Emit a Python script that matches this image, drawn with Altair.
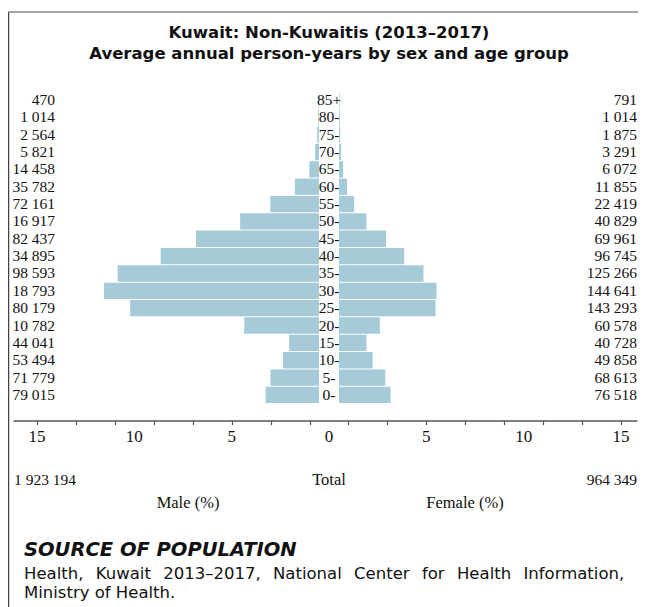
import altair as alt
import pandas as pd

ages = ["85+", "80-", "75-", "70-", "65-", "60-", "55-", "50-", "45-", "40-",
        "35-", "30-", "25-", "20-", "15-", "10-", "5-", "0-"]
male_pct = [0.02, 0.04, 0.09, 0.20, 0.50, 1.24, 2.50, 4.05, 6.32, 8.13,
            10.34, 11.04, 9.70, 3.84, 1.53, 1.85, 2.49, 2.74]
female_pct = [0.03, 0.04, 0.06, 0.11, 0.21, 0.41, 0.78, 1.41, 2.42, 3.35,
              4.34, 5.01, 4.96, 2.10, 1.41, 1.73, 2.38, 2.65]
male_labels = ["470", "1 014", "2 564", "5 821", "14 458", "35 782", "72 161",
               "16 917", "82 437", "34 895", "98 593", "18 793", "80 179",
               "10 782", "44 041", "53 494", "71 779", "79 015"]
female_labels = ["791", "1 014", "1 875", "3 291", "6 072", "11 855", "22 419",
                 "40 829", "69 961", "96 745", "125 266", "144 641", "143 293",
                 "60 578", "40 728", "49 858", "68 613", "76 518"]
minor_ticks = list(range(-15, 16))
major_ticks = [-15, -10, -5, 0, 5, 10, 15]
male_total = "1 923 194"
female_total = "964 349"

df = pd.DataFrame({
    "age": ages,
    "male": male_pct,
    "female": female_pct,
    "male_label": male_labels,
    "female_label": female_labels,
})
ticks_df = pd.DataFrame({"v": major_ticks,
                         "lab": [str(abs(v)) for v in major_ticks]})

BAR = "#a6cbd8"
SERIF = "Liberation Serif"
SANS = "DejaVu Sans"
INK = "#111"

yenc = alt.Y("age:N", sort=ages, axis=None,
             scale=alt.Scale(paddingInner=0.06, paddingOuter=0.03))
xscale = alt.Scale(domain=[-16.23, 15.82], nice=False, zero=False)

base = alt.Chart(df)

male_bars = base.transform_calculate(m="-datum.male").mark_bar(
    color=BAR, xOffset=-10, x2Offset=-10
).encode(
    x=alt.X("m:Q", scale=xscale,
            axis=alt.Axis(values=minor_ticks, title=None, grid=False,
                          labels=False, offset=17, tickSize=4,
                          domainColor="#555", tickColor="#555",
                          domainWidth=1.5, tickWidth=1.2)),
    x2=alt.datum(0),
    y=yenc,
)

female_bars = base.mark_bar(color=BAR, xOffset=10, x2Offset=10).encode(
    x=alt.X("female:Q", scale=xscale),
    x2=alt.datum(0),
    y=yenc,
)

tick_text = alt.Chart(ticks_df).mark_text(
    font=SERIF, fontSize=17, align="center", baseline="alphabetic", color=INK
).encode(x=alt.X("v:Q", scale=xscale), y=alt.value(351), text="lab:N")

male_text = base.mark_text(font=SERIF, fontSize=15.5, align="right",
                           baseline="middle", color=INK).encode(
    x=alt.value(42), y=yenc, text="male_label:N")
female_text = base.mark_text(font=SERIF, fontSize=15.5, align="right",
                             baseline="middle", color=INK).encode(
    x=alt.value(624), y=yenc, text="female_label:N")
age_text = base.mark_text(font=SERIF, fontSize=15.5, align="center",
                          baseline="middle", color=INK).encode(
    x=alt.value(316), y=yenc, text="age:N")


def note(text, x, y, **kw):
    return alt.Chart(alt.Data(values=[{}])).mark_text(text=text, **kw).encode(
        x=alt.value(x), y=alt.value(y))


one = alt.Data(values=[{}])
frame_left = alt.Chart(one).mark_rule(color="#444", strokeWidth=1.5).encode(
    x=alt.value(-4.5), y=alt.value(-79.3), y2=alt.value(530))
frame_top = alt.Chart(one).mark_rule(color="#888", strokeWidth=1.5).encode(
    x=alt.value(-4.5), x2=alt.value(640), y=alt.value(-79.3))

sp = " \u2004\u200A"
body1 = sp.join(["Health,", "Kuwait", "2013–2017,", "National", "Center",
                 "for", "Health", "Information,"])

notes = [
    note("Kuwait: Non-Kuwaitis (2013–2017)", 316, -53.3, font=SANS,
         fontWeight="bold", fontSize=16.5, align="center", baseline="alphabetic",
         color=INK),
    note("Average annual person-years by sex and age group", 316, -32.3,
         font=SANS, fontWeight="bold", fontSize=16.5, align="center",
         baseline="alphabetic", color=INK),
    note(male_total, 1, 393.7, font=SERIF, fontSize=15.5, align="left",
         baseline="alphabetic", color=INK),
    note("Total", 316, 393.7, font=SERIF, fontSize=16.5, align="center",
         baseline="alphabetic", color=INK),
    note(female_total, 624, 393.7, font=SERIF, fontSize=15.5, align="right",
         baseline="alphabetic", color=INK),
    note("Male (%)", 175, 416.4, font=SERIF, fontSize=16.5, align="center",
         baseline="alphabetic", color=INK),
    note("Female (%)", 452, 416.4, font=SERIF, fontSize=16.5, align="center",
         baseline="alphabetic", color=INK),
    note("SOURCE OF POPULATION", 11, 464.4, font=SANS, fontWeight="bold",
         fontStyle="italic", fontSize=19.5, align="left", baseline="alphabetic",
         color=INK),
    note(body1, 11, 488, font=SANS, fontSize=16.5, align="left",
         baseline="alphabetic", color=INK),
    note("Ministry of Health.", 11, 506.3, font=SANS, fontSize=16.5,
         align="left", baseline="alphabetic", color=INK),
]

chart = alt.layer(
    male_bars, female_bars, tick_text, male_text, female_text, age_text,
    frame_left, frame_top, *notes
).properties(
    width=624, height=312.3,
    background="white",
    autosize=alt.AutoSizeParams(type="none"),
    padding={"left": 5, "top": 83.3, "right": 1, "bottom": 203.4},
).configure_view(strokeWidth=0)

chart.save("out.html", embed_options={"renderer": "svg", "actions": False})
